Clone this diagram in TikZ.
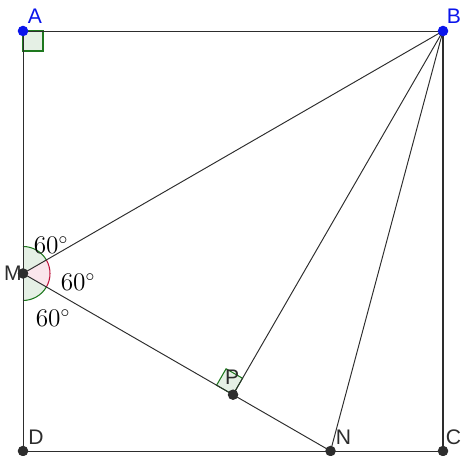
\documentclass[tikz,border=0pt]{standalone}
\usepackage{fontspec}
\newfontfamily\ptfont{Liberation Sans}
\usepackage{tikz}
\usetikzlibrary{calc, positioning}
\definecolor{ptblue}{RGB}{10,20,235}
\definecolor{ptdark}{RGB}{45,45,45}
\definecolor{anggreen}{RGB}{30,120,30}
\definecolor{angred}{RGB}{190,20,60}
\definecolor{fillgreen}{RGB}{229,240,229}
\definecolor{fillred}{RGB}{250,230,236}
\tikzset{
  seg/.style={line width=0.55pt, color=ptdark},
  boldseg/.style={line width=1.2pt, color=ptdark},
  bluedot/.style={circle, fill=ptblue, inner sep=0pt, minimum size=6pt},
  darkdot/.style={circle, fill=ptdark, inner sep=0pt, minimum size=6pt},
  ptlabel/.style={font=\ptfont\fontsize{12}{14}\selectfont, text=ptdark, inner sep=1pt},
  bluelabel/.style={font=\ptfont\fontsize{12}{14}\selectfont, text=ptblue, inner sep=1pt},
  anglabel/.style={font=\fontsize{14}{16}\selectfont, inner sep=1pt},
  greensec/.style={fill=fillgreen, draw=none},
  redsec/.style={fill=fillred, draw=none},
  greenarc/.style={draw=anggreen, line width=0.6pt},
  redarc/.style={draw=angred, line width=0.6pt},
  rightmark/.style={fill=fillgreen, draw=anggreen, line width=0.6pt}
}

\begin{document}
\begin{tikzpicture}
  \useasboundingbox (-0.46,-0.08) rectangle (8.76,9.02);

  % Points
  \coordinate (D) at (0,0);
  \coordinate (C) at (8.4,0);
  \coordinate (B) at (8.4,8.4);
  \coordinate (A) at (0,8.4);
  \coordinate (M) at (0,{8.4-8.4*tan(30)});
  \coordinate (N) at ({(8.4-8.4*tan(30))/tan(30)},0);
  \coordinate (P) at ($(M)!(B)!(N)$);

  % Angle marks
  \def\angr{0.54}
  \fill[greensec] (M) -- ++(90:\angr) arc[start angle=90, end angle=30, radius=\angr] -- cycle;
  \fill[redsec] (M) -- ++(30:\angr) arc[start angle=30, end angle=-30, radius=\angr] -- cycle;
  \fill[greensec] (M) -- ++(-30:\angr) arc[start angle=-30, end angle=-90, radius=\angr] -- cycle;
  \draw[greenarc] (M) ++(90:\angr) arc[start angle=90, end angle=30, radius=\angr];
  \draw[redarc] (M) ++(30:\angr) arc[start angle=30, end angle=-30, radius=\angr];
  \draw[greenarc] (M) ++(-30:\angr) arc[start angle=-30, end angle=-90, radius=\angr];

  \draw[rightmark] (A) rectangle ++(0.4,-0.4);
  \coordinate (p1) at ($(P)!0.38cm!(M)$);
  \coordinate (p2) at ($(P)!0.38cm!(B)$);
  \draw[rightmark] (P) -- (p1) -- ($(p1)+(p2)-(P)$) -- (p2) -- cycle;

  % Segments
  \draw[seg] (A) -- (B);
  \draw[seg] (A) -- (D);
  \draw[seg] (D) -- (C);
  \draw[boldseg] (B) -- (C);
  \draw[seg] (M) -- (B);
  \draw[seg] (M) -- (N);
  \draw[seg] (B) -- (P);
  \draw[seg] (B) -- (N);

  % Dots
  \node[bluedot] (dA) at (A) {};
  \node[bluedot] (dB) at (B) {};
  \node[darkdot] (dC) at (C) {};
  \node[darkdot] (dD) at (D) {};
  \node[darkdot] (dM) at (M) {};
  \node[darkdot] (dN) at (N) {};
  \node[darkdot] (dP) at (P) {};

  % Labels
  \node[bluelabel] (lA) at ($(A)+(0.24,0.3)$) {A};
  \node[bluelabel] (lB) at ($(B)+(0.22,0.3)$) {B};
  \node[ptlabel] (lC) at ($(C)+(0.21,0.28)$) {C};
  \node[ptlabel] (lD) at ($(D)+(0.26,0.28)$) {D};
  \node[ptlabel] (lM) at ($(M)+(-0.2,0.0)$) {M};
  \node[ptlabel] (lN) at ($(N)+(0.26,0.28)$) {N};
  \node[ptlabel] (lP) at ($(P)+(-0.02,0.34)$) {P};

  \node[anglabel] (a1) at ($(M)+(0.56,0.56)$) {$60^\circ$};
  \node[anglabel] (a2) at ($(M)+(1.1,-0.18)$) {$60^\circ$};
  \node[anglabel] (a3) at ($(M)+(0.6,-0.9)$) {$60^\circ$};

\end{tikzpicture}
\end{document}
